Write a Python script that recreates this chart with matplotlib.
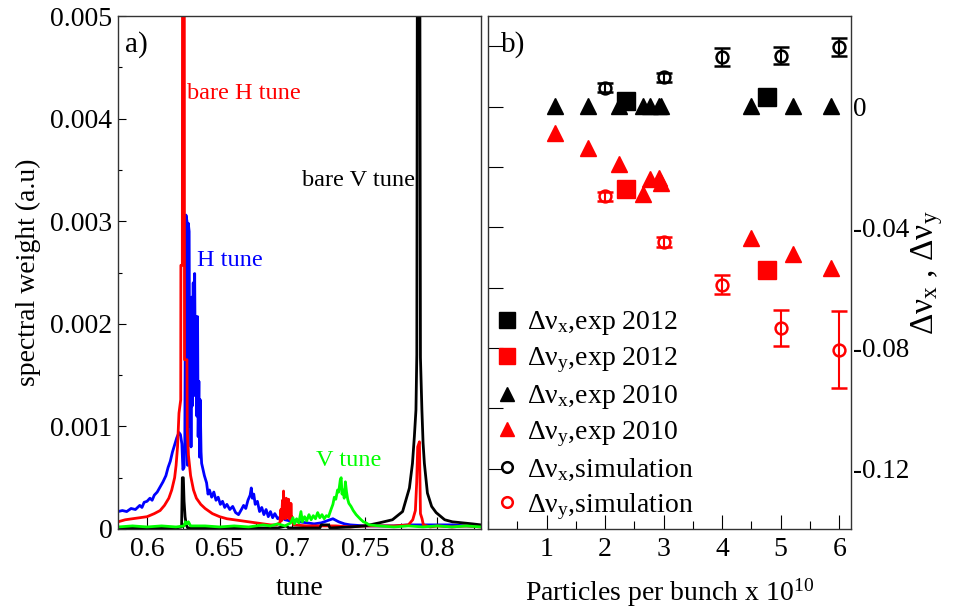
import matplotlib
matplotlib.use('Agg')
import matplotlib.pyplot as plt
from matplotlib.ticker import MultipleLocator

plt.rcParams['font.family'] = 'Liberation Serif'
plt.rcParams['mathtext.fontset'] = 'custom'
plt.rcParams['mathtext.rm'] = 'Liberation Serif'
plt.rcParams['mathtext.it'] = 'Liberation Serif:italic'

# ---- panel a) spectra ----
blue_t = [0.5800, 0.5830, 0.5860, 0.5890, 0.5920, 0.5950, 0.5965, 0.5980, 0.6000, 0.6020,
          0.6035, 0.6050, 0.6070, 0.6090, 0.6110, 0.6130, 0.6145, 0.6160, 0.6175, 0.6190,
          0.6205, 0.6220, 0.6230, 0.6240, 0.6247, 0.6255, 0.6260, 0.6264, 0.6268, 0.6275,
          0.6280, 0.6284, 0.6290, 0.6294, 0.6298, 0.6303, 0.6308, 0.6312, 0.6318, 0.6323,
          0.6328, 0.6333, 0.6338, 0.6343, 0.6348, 0.6352, 0.6357, 0.6362, 0.6366, 0.6372,
          0.6376, 0.6395, 0.6410, 0.6420, 0.6430, 0.6445, 0.6460, 0.6475, 0.6490, 0.6505,
          0.6520, 0.6535, 0.6550, 0.6570, 0.6590, 0.6610, 0.6630, 0.6650, 0.6665, 0.6680,
          0.6695, 0.6710, 0.6718, 0.6725, 0.6735, 0.6745, 0.6760, 0.6775, 0.6790, 0.6805,
          0.6820, 0.6835, 0.6850, 0.6865, 0.6880, 0.6900, 0.6920, 0.6950, 0.6980, 0.7000,
          0.7050, 0.7100, 0.7150, 0.7200, 0.7240, 0.7280, 0.7320, 0.7360, 0.7400, 0.7500,
          0.7600, 0.7700, 0.7800, 0.7900, 0.8000, 0.8100, 0.8200, 0.8300]
blue_w = [0.00017, 0.00018, 0.00017, 0.00020, 0.00019, 0.00023, 0.00021, 0.00026, 0.00027, 0.00030,
          0.00028, 0.00033, 0.00036, 0.00041, 0.00046, 0.00052, 0.00060, 0.00066, 0.00075, 0.00082,
          0.00089, 0.00094, 0.00092, 0.00083, 0.00058, 0.00060, 0.00080, 0.00220, 0.00306, 0.00300,
          0.00062, 0.00298, 0.00290, 0.00100, 0.00210, 0.00080, 0.00226, 0.00120, 0.00240, 0.00130,
          0.00249, 0.00140, 0.00207, 0.00110, 0.00207, 0.00090, 0.00144, 0.00070, 0.00126, 0.00075,
          0.00064, 0.00052, 0.00045, 0.00034, 0.00038, 0.00031, 0.00036, 0.00028, 0.00031, 0.00024,
          0.00027, 0.00021, 0.00024, 0.00019, 0.00022, 0.00016, 0.00014, 0.00019, 0.00023, 0.00020,
          0.00028, 0.00033, 0.00040, 0.00030, 0.00034, 0.00024, 0.00027, 0.00017, 0.00021, 0.00014,
          0.00019, 0.00012, 0.00017, 0.00011, 0.00015, 0.00010, 0.00012, 0.00009, 0.00008, 0.00009,
          0.00007, 0.00006, 0.00005, 0.00006, 0.00008, 0.00010, 0.00007, 0.00005, 0.00004, 0.00003,
          0.00003, 0.00003, 0.00004, 0.00004, 0.00004, 0.00004, 0.00003, 0.00003]

red_t = [0.5800, 0.5850, 0.5900, 0.5950, 0.6000, 0.6050, 0.6090, 0.6120, 0.6150, 0.6170,
         0.6190, 0.6200, 0.6210, 0.6220, 0.6232, 0.6233, 0.6243, 0.6245, 0.6256, 0.6258,
         0.6275, 0.6277, 0.6285, 0.6300, 0.6320, 0.6340, 0.6370, 0.6400, 0.6450, 0.6500,
         0.6550, 0.6600, 0.6650, 0.6700, 0.6750, 0.6800, 0.6850, 0.6890, 0.6915, 0.6922,
         0.6926, 0.6933, 0.6937, 0.6940, 0.6945, 0.6950, 0.6954, 0.6959, 0.6963, 0.6968,
         0.6972, 0.6975, 0.6980, 0.6984, 0.6988, 0.6991, 0.6995, 0.6998, 0.7010, 0.7100,
         0.7200, 0.7300, 0.7400, 0.7500, 0.7600, 0.7700, 0.7800, 0.7830, 0.7848, 0.7857,
         0.7864, 0.7876, 0.7883, 0.7894, 0.7903, 0.7950, 0.8000, 0.8100, 0.8200, 0.8300]
red_w = [0.00007, 0.00009, 0.00010, 0.00011, 0.00012, 0.00015, 0.00018, 0.00023, 0.00030, 0.00038,
         0.00050, 0.00062, 0.00080, 0.00113, 0.00126, 0.00257, 0.00257, 0.00700, 0.00700, 0.00165,
         0.00165, 0.00096, 0.00072, 0.00052, 0.00038, 0.00030, 0.00024, 0.00020, 0.00015, 0.00012,
         0.00010, 0.00009, 0.00008, 0.00007, 0.00006, 0.00005, 0.00004, 0.00004, 0.00006, 0.00019,
         0.00008, 0.00028, 0.00010, 0.00037, 0.00012, 0.00024, 0.00010, 0.00030, 0.00012, 0.00027,
         0.00011, 0.00029, 0.00010, 0.00019, 0.00009, 0.00025, 0.00008, 0.00012, 0.00004, 0.00003,
         0.00003, 0.00003, 0.00002, 0.00003, 0.00003, 0.00003, 0.00004, 0.00009, 0.00018, 0.00045,
         0.00080, 0.00085, 0.00015, 0.00010, 0.00004, 0.00002, 0.00003, 0.00002, 0.00003, 0.00002]

black_t = [0.5800, 0.6000, 0.6200, 0.6238, 0.6243, 0.6250, 0.6255, 0.6262, 0.6270, 0.6280,
           0.6500, 0.6900, 0.6960, 0.6975, 0.7190, 0.7200, 0.7250, 0.7260, 0.7400, 0.7500,
           0.7600, 0.7690, 0.7760, 0.7807, 0.7828, 0.7841, 0.7852, 0.7858, 0.7863, 0.7877,
           0.7883, 0.7893, 0.7901, 0.7910, 0.7931, 0.7960, 0.7991, 0.8050, 0.8103, 0.8241, 0.8300]
black_w = [0.00001, 0.00001, 0.00001, 0.00002, 0.00050, 0.00050, 0.00027, 0.00012, 0.00004, 0.00001,
           0.00001, 0.00001, 0.00003, 0.00001, 0.00001, 0.00004, 0.00004, 0.00001, 0.00002, 0.00003,
           0.00006, 0.00009, 0.00017, 0.00040, 0.00064, 0.00090, 0.00116, 0.00170, 0.00700, 0.00700,
           0.00167, 0.00116, 0.00084, 0.00064, 0.00035, 0.00022, 0.00016, 0.00009, 0.00007, 0.00005, 0.00004]

green_t = [0.5800, 0.5900, 0.6000, 0.6100, 0.6200, 0.6255, 0.6265, 0.6275, 0.6285, 0.6300,
           0.6400, 0.6500, 0.6600, 0.6700, 0.6800, 0.6850, 0.6900, 0.6950, 0.6990, 0.7005,
           0.7015, 0.7030, 0.7045, 0.7060, 0.7070, 0.7085, 0.7100, 0.7115, 0.7130, 0.7145,
           0.7160, 0.7175, 0.7190, 0.7205, 0.7220, 0.7235, 0.7250, 0.7267, 0.7280, 0.7290,
           0.7300, 0.7312, 0.7320, 0.7331, 0.7337, 0.7343, 0.7350, 0.7358, 0.7366, 0.7374,
           0.7382, 0.7390, 0.7405, 0.7420, 0.7440, 0.7460, 0.7474, 0.7490, 0.7508, 0.7530,
           0.7600, 0.7700, 0.7800, 0.7900, 0.8000, 0.8100, 0.8200, 0.8300]
green_w = [0.00002, 0.00003, 0.00002, 0.00003, 0.00002, 0.00003, 0.00007, 0.00005, 0.00007, 0.00003,
           0.00003, 0.00002, 0.00003, 0.00002, 0.00004, 0.00003, 0.00005, 0.00003, 0.00006, 0.00011,
           0.00005, 0.00010, 0.00006, 0.00017, 0.00007, 0.00012, 0.00008, 0.00014, 0.00009, 0.00013,
           0.00010, 0.00016, 0.00011, 0.00014, 0.00010, 0.00013, 0.00012, 0.00019, 0.00024, 0.00031,
           0.00029, 0.00038, 0.00036, 0.00048, 0.00050, 0.00034, 0.00038, 0.00030, 0.00046, 0.00036,
           0.00029, 0.00025, 0.00022, 0.00018, 0.00014, 0.00011, 0.00009, 0.00007, 0.00006, 0.00004,
           0.00003, 0.00002, 0.00003, 0.00002, 0.00003, 0.00002, 0.00003, 0.00002]

# ---- panel b) tune shifts ----
x_2010 = [1.15, 1.71, 2.23, 2.64, 2.76, 2.92, 2.96, 4.50, 5.21, 5.86]
dx_2010 = [0.0003, 0.0003, 0.0003, 0.0003, 0.0003, 0.0003, 0.0003, 0.0003, 0.0003, 0.0003]
dy_2010 = [-0.0089, -0.0139, -0.0192, -0.0289, -0.0241, -0.0236, -0.0252, -0.0437, -0.0490, -0.0536]

x_2012 = [2.36, 4.76]
dx_2012 = [0.0018, 0.0032]
dy_2012 = [-0.0274, -0.0543]

x_sim = [2, 3, 4, 5, 6]
dx_sim = [0.0062, 0.0097, 0.0164, 0.0169, 0.0196]
dx_sim_err = [0.0015, 0.0015, 0.0029, 0.0029, 0.0030]
dy_sim = [-0.0297, -0.0449, -0.0590, -0.0734, -0.0806]
dy_sim_err = [0.0015, 0.0017, 0.0031, 0.0059, 0.0128]

fig = plt.figure(figsize=(9.63, 6.09), dpi=100)
ax1 = fig.add_axes([118/963, 80/609, 363/963, 513/609])
ax2 = fig.add_axes([488/963, 80/609, 363/963, 513/609])

ax1.plot(blue_t, blue_w, color='#0000ff', lw=2)
ax1.plot(red_t, red_w, color='#ff0000', lw=2)
ax1.plot(black_t, black_w, color='black', lw=2)
ax1.plot(green_t, green_w, color='#00ff00', lw=2)

ax1.set_xlim(0.58, 0.83)
ax1.set_ylim(0, 0.005)
ax1.set_xticks([0.6, 0.65, 0.7, 0.75, 0.8])
ax1.set_xticklabels(['0.6', '0.65', '0.7', '0.75', '0.8'])
ax1.set_yticks([0, 0.001, 0.002, 0.003, 0.004, 0.005])
ax1.set_yticklabels(['0', '0.001', '0.002', '0.003', '0.004', '0.005'])
ax1.xaxis.set_minor_locator(MultipleLocator(0.025))
ax1.yaxis.set_minor_locator(MultipleLocator(0.0005))
ax1.tick_params(axis='x', which='major', direction='in', length=8.5, width=0.8, labelsize=20, pad=6)
ax1.tick_params(axis='x', which='minor', direction='in', length=4.5, width=0.8)
ax1.tick_params(axis='y', which='major', direction='in', length=6, width=0.8, labelsize=20, pad=4)
ax1.tick_params(axis='y', which='minor', direction='in', length=3, width=0.8)
ax1.set_xlabel('tune', fontsize=20, labelpad=10)
ax1.set_ylabel('spectral weight (a.u)', fontsize=20, labelpad=7)

ax1.text(0.019, 0.93, 'a)', transform=ax1.transAxes, fontsize=21)
ax1.text(0.6278, 0.00419, 'bare H tune', color='#ff0000', fontsize=17.5)
ax1.text(0.7067, 0.00334, 'bare V tune', color='black', fontsize=17.5)
ax1.text(0.6347, 0.00256, 'H tune', color='#0000ff', fontsize=17.5)
ax1.text(0.7163, 0.00061, 'V tune', color='#00ff00', fontsize=17.5)

sq_x, = ax2.plot(x_2012, dx_2012, 's', color='black', ms=13)
sq_y, = ax2.plot(x_2012, dy_2012, 's', color='#ff0000', ms=13)
tri_x, = ax2.plot(x_2010, dx_2010, '^', color='black', ms=11.5)
tri_y, = ax2.plot(x_2010, dy_2010, '^', color='#ff0000', ms=11.5)
sim_x = ax2.errorbar(x_sim, dx_sim, yerr=dx_sim_err, fmt='o', color='black', mfc='none',
                     ms=8.5, mew=1.8, elinewidth=1.5, capsize=6, capthick=1.5)
sim_y = ax2.errorbar(x_sim, dy_sim, yerr=dy_sim_err, fmt='o', color='#ff0000', mfc='none',
                     ms=8.5, mew=1.8, elinewidth=1.5, capsize=6, capthick=1.5)

ax2.set_xlim(0, 6.2)
ax2.set_ylim(-0.14, 0.03)
ax2.set_xticks([1, 2, 3, 4, 5, 6])
ax2.xaxis.set_minor_locator(MultipleLocator(0.5))
yt = [-0.12, -0.10, -0.08, -0.06, -0.04, -0.02, 0, 0.02]
ax2.set_yticks(yt)
ax2.set_yticklabels(['-0.12', '', '-0.08', '', '-0.04', '', '0', ''])
ax2.tick_params(axis='x', which='major', direction='in', length=10, width=0.8, labelsize=20, pad=6)
ax2.tick_params(axis='x', which='minor', direction='in', length=5.5, width=0.8)
ax2.tick_params(axis='y', which='major', direction='in', length=11, width=0.8, labelsize=19.5,
                left=True, right=False, labelleft=False, labelright=True, pad=1.5)
ax2.set_xlabel('Particles per bunch x 10$^{10}$', fontsize=20, labelpad=10)
ax2.yaxis.set_label_position('right')
ax2.set_ylabel('Δν$_{\\mathrm{x}}$ , Δν$_{\\mathrm{y}}$', fontsize=24, labelpad=0)
ax2.text(0.035, 0.93, 'b)', transform=ax2.transAxes, fontsize=21)

handles = [sq_x, sq_y, tri_x, tri_y, sim_x[0], sim_y[0]]
labels = ['Δν$_{\\mathrm{x}}$,exp 2012', 'Δν$_{\\mathrm{y}}$,exp 2012',
          'Δν$_{\\mathrm{x}}$,exp 2010', 'Δν$_{\\mathrm{y}}$,exp 2010',
          'Δν$_{\\mathrm{x}}$,simulation', 'Δν$_{\\mathrm{y}}$,simulation']
leg = ax2.legend(handles, labels, loc='upper left', bbox_to_anchor=(0.022, 0.428),
                 frameon=False, fontsize=20, numpoints=1, handlelength=0.8,
                 handletextpad=0.3, borderpad=0, borderaxespad=0, labelspacing=0.29,
                 markerscale=0.9)

for ax in (ax1, ax2):
    for s in ax.spines.values():
        s.set_linewidth(1.0)
        s.set_color('#333333')

fig.savefig('out.png', dpi=100)
